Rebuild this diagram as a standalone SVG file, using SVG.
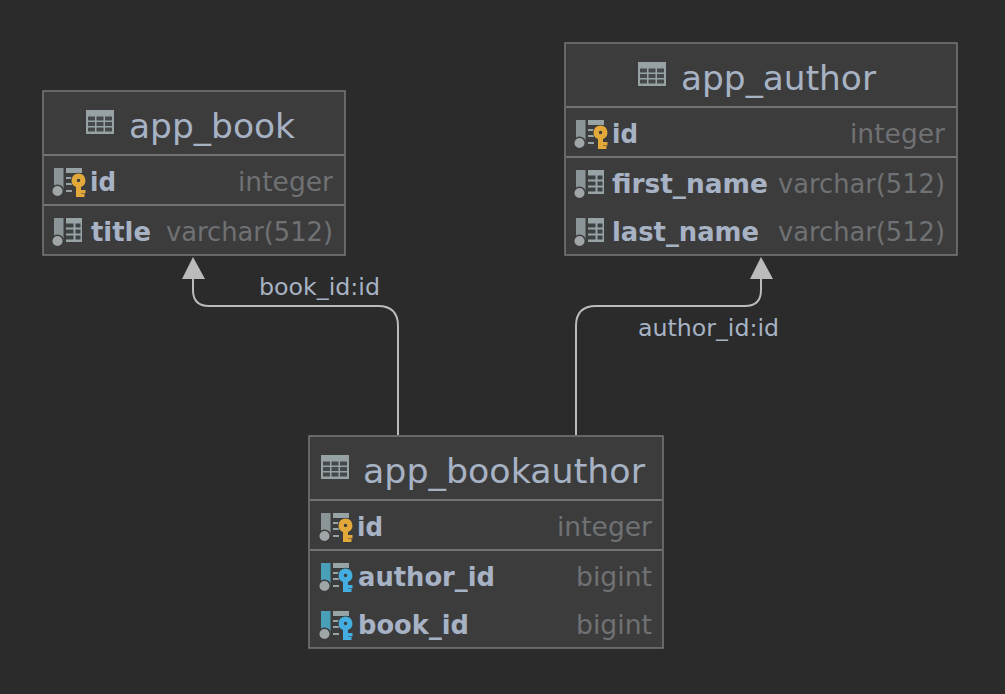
<svg xmlns="http://www.w3.org/2000/svg" width="1005" height="694" viewBox="0 0 1005 694">
<style>
text{font-family:"DejaVu Sans",sans-serif}
.box{fill:#3c3c3d;stroke:#76787a;stroke-width:1.5}
.sep{stroke:#717374;stroke-width:2}
.title{font-size:34.6px;fill:#a7b3c4}
.col{font-size:26.5px;font-weight:bold;fill:#a7b3c4}
.type{font-size:26.5px;fill:#6f7173}
.lbl{font-size:23.7px;fill:#a7b3c4}
.conn{fill:none;stroke:#bbbbbb;stroke-width:2}
.head{fill:#bbbbbb}
</style>
<defs>
<g id="tbl"><rect width="28" height="24" fill="#97a2a4"/><g fill="#45494b"><rect x="2" y="6.500" width="7" height="4"/><rect x="10.500" y="6.500" width="7" height="4"/><rect x="19" y="6.500" width="7" height="4"/><rect x="2" y="12" width="7" height="4"/><rect x="10.500" y="12" width="7" height="4"/><rect x="19" y="12" width="7" height="4"/><rect x="2" y="17.500" width="7" height="4"/><rect x="10.500" y="17.500" width="7" height="4"/><rect x="19" y="17.500" width="7" height="4"/></g></g>
<g id="colicon"><rect x="2" width="9.500" height="22" fill="#8b9598"/><circle cx="5.500" cy="23" r="5.800" fill="#a0a5a8" stroke="#3c3c3d" stroke-width="1.500"/><rect x="14" width="16" height="24" fill="#98a3a5"/><g fill="#3f4244"><rect x="14" y="5.500" width="7.500" height="4"/><rect x="23.500" y="5.500" width="5" height="4"/><rect x="14" y="11.500" width="7.500" height="4"/><rect x="23.500" y="11.500" width="5" height="4"/><rect x="14" y="17.500" width="7.500" height="4"/><rect x="23.500" y="17.500" width="5" height="4"/></g></g>
<g id="keybase"><rect x="2" width="9.500" height="22" fill="currentColor"/><circle cx="5.500" cy="23" r="5.800" fill="#a0a5a8" stroke="#3c3c3d" stroke-width="1.500"/><g fill="#98a3a5"><rect x="14" width="16" height="5"/><rect x="14" y="9" width="6" height="2"/><rect x="14" y="15" width="6" height="2"/><rect x="14" y="22" width="6" height="2"/></g></g>
<path id="key" d="M6.500 -.5a7 7 0 0 1 2.500 13.500V16h4.500v3.500H9V20h3.500v3H4V13A7 7 0 0 1 6.500 -.5zM6.500 4.700a1.700 1.700 0 1 0 .01 0z" fill-rule="evenodd" stroke="#3c3c3d" stroke-width="1.500" paint-order="stroke"/>
</defs>
<rect width="1005" height="694" fill="#2b2b2b"/>
<g id="connectors">
<path class="conn" d="M398 435V326Q398 306 378 306H209Q193 306 193 290V278"/>
<polygon class="head" points="193,257 182,279 205,279"/>
<path class="conn" d="M576 435V326Q576 306 596 306H745Q761 306 761 290V278"/>
<polygon class="head" points="761,257 750,279 773,279"/>
<text class="lbl" x="259" y="295" textLength="121" lengthAdjust="spacingAndGlyphs">book_id:id</text>
<text class="lbl" x="638" y="336" textLength="141" lengthAdjust="spacingAndGlyphs">author_id:id</text>
</g>
<g id="app_book">
<rect class="box" x="43" y="91" width="302" height="164"/>
<line class="sep" x1="44" x2="344" y1="155" y2="155"/><line class="sep" x1="44" x2="344" y1="205" y2="205"/>
<use href="#tbl" x="86" y="110"/>
<text class="title" x="129" y="138" textLength="166" lengthAdjust="spacingAndGlyphs">app_book</text>
<use href="#keybase" x="52" y="168" color="#8b9598"/><use href="#key" x="72" y="174" fill="#e2a83a"/>
<text class="col" x="90" y="191" textLength="26" lengthAdjust="spacingAndGlyphs">id</text><text class="type" x="238" y="191" textLength="95" lengthAdjust="spacingAndGlyphs">integer</text>
<use href="#colicon" x="52" y="218"/>
<text class="col" x="91" y="241" textLength="60" lengthAdjust="spacingAndGlyphs">title</text><text class="type" x="166" y="241" textLength="167" lengthAdjust="spacingAndGlyphs">varchar(512)</text>
</g>
<g id="app_author">
<rect class="box" x="565" y="43" width="392" height="212"/>
<line class="sep" x1="566" x2="956" y1="107" y2="107"/><line class="sep" x1="566" x2="956" y1="157" y2="157"/>
<use href="#tbl" x="638" y="62"/>
<text class="title" x="681" y="90" textLength="195" lengthAdjust="spacingAndGlyphs">app_author</text>
<use href="#keybase" x="574" y="120" color="#8b9598"/><use href="#key" x="594" y="126" fill="#e2a83a"/>
<text class="col" x="612" y="143" textLength="26" lengthAdjust="spacingAndGlyphs">id</text><text class="type" x="850" y="143" textLength="95" lengthAdjust="spacingAndGlyphs">integer</text>
<use href="#colicon" x="574" y="170"/>
<text class="col" x="612" y="193" textLength="156" lengthAdjust="spacingAndGlyphs">first_name</text><text class="type" x="778" y="193" textLength="167" lengthAdjust="spacingAndGlyphs">varchar(512)</text>
<use href="#colicon" x="574" y="218"/>
<text class="col" x="612" y="241" textLength="147" lengthAdjust="spacingAndGlyphs">last_name</text><text class="type" x="778" y="241" textLength="167" lengthAdjust="spacingAndGlyphs">varchar(512)</text>
</g>
<g id="app_bookauthor">
<rect class="box" x="309" y="436" width="354" height="212"/>
<line class="sep" x1="310" x2="662" y1="500" y2="500"/><line class="sep" x1="310" x2="662" y1="550" y2="550"/>
<use href="#tbl" x="321" y="455"/>
<text class="title" x="363" y="483" textLength="282" lengthAdjust="spacingAndGlyphs">app_bookauthor</text>
<use href="#keybase" x="319" y="513" color="#8b9598"/><use href="#key" x="339" y="519" fill="#e2a83a"/>
<text class="col" x="357" y="536" textLength="26" lengthAdjust="spacingAndGlyphs">id</text><text class="type" x="557" y="536" textLength="95" lengthAdjust="spacingAndGlyphs">integer</text>
<use href="#keybase" x="319" y="563" color="#4a9fb8"/><use href="#key" x="339" y="569" fill="#45aee0"/>
<text class="col" x="358" y="586" textLength="137" lengthAdjust="spacingAndGlyphs">author_id</text><text class="type" x="576" y="586" textLength="76" lengthAdjust="spacingAndGlyphs">bigint</text>
<use href="#keybase" x="319" y="611" color="#4a9fb8"/><use href="#key" x="339" y="617" fill="#45aee0"/>
<text class="col" x="358" y="634" textLength="111" lengthAdjust="spacingAndGlyphs">book_id</text><text class="type" x="576" y="634" textLength="76" lengthAdjust="spacingAndGlyphs">bigint</text>
</g>
</svg>
